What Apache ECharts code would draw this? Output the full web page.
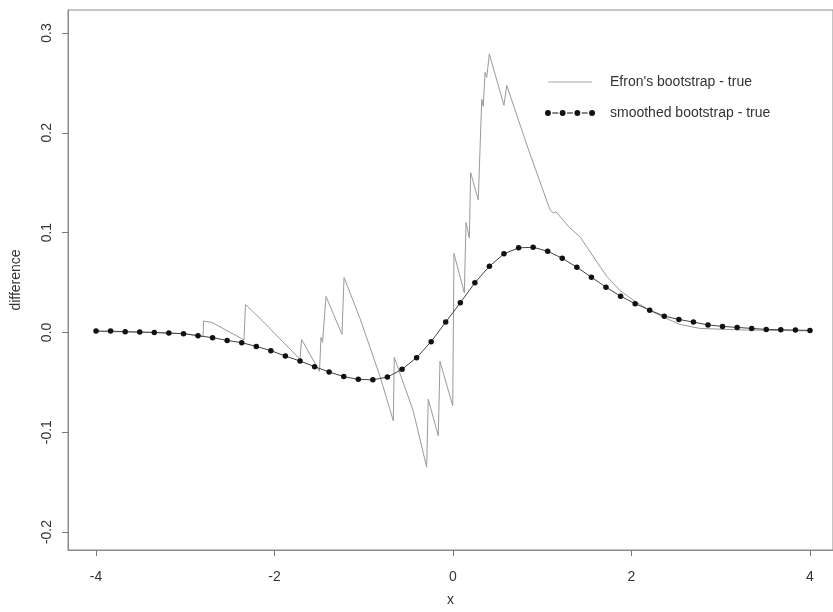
<!DOCTYPE html>
<html>
<head>
<meta charset="utf-8">
<script src="https://cdn.jsdelivr.net/npm/echarts@6/dist/echarts.min.js"></script>
<style>
  html, body { margin: 0; padding: 0; background: #fff; }
  #chart { width: 833px; height: 612px; }
</style>
</head>
<body>
<div id="chart"></div>
<script>
// Grid of 50 evaluation points on [-4, 4]
const smoothX = [-4.000, -3.837, -3.673, -3.510, -3.347, -3.184, -3.020, -2.857, -2.694, -2.531,
  -2.367, -2.204, -2.041, -1.878, -1.714, -1.551, -1.388, -1.224, -1.061, -0.898,
  -0.735, -0.571, -0.408, -0.245, -0.082, 0.082, 0.245, 0.408, 0.571, 0.735,
  0.898, 1.061, 1.224, 1.388, 1.551, 1.714, 1.878, 2.041, 2.204, 2.367,
  2.531, 2.694, 2.857, 3.020, 3.184, 3.347, 3.510, 3.673, 3.837, 4.000];

// smoothed bootstrap - true
const smoothY = [0.0013, 0.0013, 0.0007, 0.0003, 0.0, -0.0007, -0.0013, -0.0033, -0.0053, -0.008,
  -0.0103, -0.014, -0.0183, -0.0237, -0.0287, -0.0343, -0.0397, -0.0443, -0.047, -0.0475,
  -0.0447, -0.037, -0.0253, -0.0093, 0.0103, 0.0297, 0.0497, 0.0663, 0.0787, 0.0847,
  0.0853, 0.0813, 0.0743, 0.0653, 0.0553, 0.0453, 0.0363, 0.0287, 0.0223, 0.0163,
  0.013, 0.0103, 0.0075, 0.006, 0.005, 0.004, 0.003, 0.0027, 0.0023, 0.002];

// Efron's bootstrap - true (vertices of the saw-tooth curve)
const efronX = [-4.000, -3.500, -3.000, -2.800, -2.796, -2.700, -2.342, -2.325, -2.140, -1.714,
  -1.697, -1.496, -1.479, -1.462, -1.423, -1.244, -1.221, -1.042, -0.818, -0.669,
  -0.658, -0.448, -0.295, -0.277, -0.165, -0.146, -0.003, 0.011, 0.127, 0.146,
  0.183, 0.198, 0.283, 0.322, 0.339, 0.359, 0.378, 0.407, 0.571, 0.602,
  0.840, 1.087, 1.124, 1.154, 1.311, 1.333, 1.423, 1.722, 1.871, 2.039,
  2.207, 2.364, 2.543, 2.767, 3.215, 4.000];
const efronY = [0.001, 0.0003, -0.0013, -0.004, 0.0113, 0.010, -0.0075, 0.028, 0.012, -0.027,
  -0.007, -0.039, -0.005, -0.010, 0.036, -0.002, 0.055, 0.014, -0.044, -0.0885,
  -0.025, -0.078, -0.135, -0.067, -0.1035, -0.029, -0.0735, 0.079, 0.0396, 0.110,
  0.0945, 0.160, 0.1327, 0.2335, 0.2265, 0.2605, 0.2555, 0.279, 0.2275, 0.2475,
  0.1846, 0.1228, 0.1195, 0.1208, 0.1045, 0.106, 0.0958, 0.0562, 0.042, 0.031,
  0.022, 0.015, 0.008, 0.004, 0.0025, 0.0015];

const xTicks = [-4, -2, 0, 2, 4];
const yTicks = [-0.2, -0.1, 0.0, 0.1, 0.2, 0.3];

const seriesNames = ["Efron's bootstrap - true", 'smoothed bootstrap - true'];

const efronData = efronX.map((x, i) => [x, efronY[i]]);
const smoothData = smoothX.map((x, i) => [x, smoothY[i]]);

const FONT = "'Liberation Sans', Arial, Helvetica, sans-serif";

// legend glyph: four dots joined by short dashes
const dotsIcon = 'path://' +
  'M0,3a3,3 0 1,0 6,0a3,3 0 1,0 -6,0z' +
  'M15,3a3,3 0 1,0 6,0a3,3 0 1,0 -6,0z' +
  'M30,3a3,3 0 1,0 6,0a3,3 0 1,0 -6,0z' +
  'M45,3a3,3 0 1,0 6,0a3,3 0 1,0 -6,0z' +
  'M7.5,2.5h6v1h-6z M22.5,2.5h6v1h-6z M37.5,2.5h6v1h-6z';

const chart = echarts.init(document.getElementById('chart'), null, { renderer: 'canvas' });

chart.setOption({
  animation: false,
  backgroundColor: '#ffffff',
  grid: {
    left: 68, top: 10, right: 0, bottom: 61,
    show: true, borderColor: '#8a8a8a', borderWidth: 1
  },
  xAxis: {
    type: 'value',
    min: -4.314, max: 4.258,
    name: 'x',
    nameLocation: 'middle',
    nameGap: 43,
    nameTextStyle: { fontFamily: FONT, fontSize: 14, color: '#333' },
    axisLine: { show: true, onZero: false, lineStyle: { color: '#8a8a8a', width: 1 } },
    axisTick: { show: true, length: 6, customValues: xTicks, lineStyle: { color: '#777' } },
    axisLabel: { customValues: xTicks, margin: 20, fontFamily: FONT, fontSize: 14, color: '#333' },
    splitLine: { show: false }
  },
  yAxis: {
    type: 'value',
    min: -0.218, max: 0.323,
    name: 'difference',
    nameLocation: 'middle',
    nameGap: 45,
    nameRotate: 90,
    nameTextStyle: { fontFamily: FONT, fontSize: 14, color: '#333' },
    axisLine: { show: true, onZero: false, lineStyle: { color: '#8a8a8a', width: 1 } },
    axisTick: { show: true, length: 6, customValues: yTicks, lineStyle: { color: '#777' } },
    axisLabel: {
      customValues: yTicks, rotate: 90, margin: 14,
      fontFamily: FONT, fontSize: 14, color: '#333',
      formatter: v => v.toFixed(1)
    },
    splitLine: { show: false }
  },
  legend: [
    {
      data: [{ name: seriesNames[0], icon: 'rect' }],
      left: 543, top: 70, orient: 'vertical',
      itemWidth: 44, itemHeight: 1,
      textStyle: { fontFamily: FONT, fontSize: 14, color: '#333', padding: [0, 0, 0, 13] }
    },
    {
      data: [{ name: seriesNames[1], icon: dotsIcon }],
      left: 540, top: 101, orient: 'vertical',
      itemWidth: 50, itemHeight: 6,
      textStyle: { fontFamily: FONT, fontSize: 14, color: '#333', padding: [0, 0, 0, 10] }
    }
  ],
  series: [
    {
      name: seriesNames[0],
      type: 'line',
      data: efronData,
      showSymbol: false,
      symbol: 'none',
      lineStyle: { color: '#9a9a9a', width: 1 },
      itemStyle: { color: '#a8a8a8' },
      z: 2
    },
    {
      name: seriesNames[1],
      type: 'line',
      data: smoothData,
      symbol: 'circle',
      symbolSize: 5.5,
      showAllSymbol: true,
      lineStyle: { color: '#444', width: 1 },
      itemStyle: { color: '#111' },
      z: 3
    }
  ]
});
</script>
</body>
</html>
